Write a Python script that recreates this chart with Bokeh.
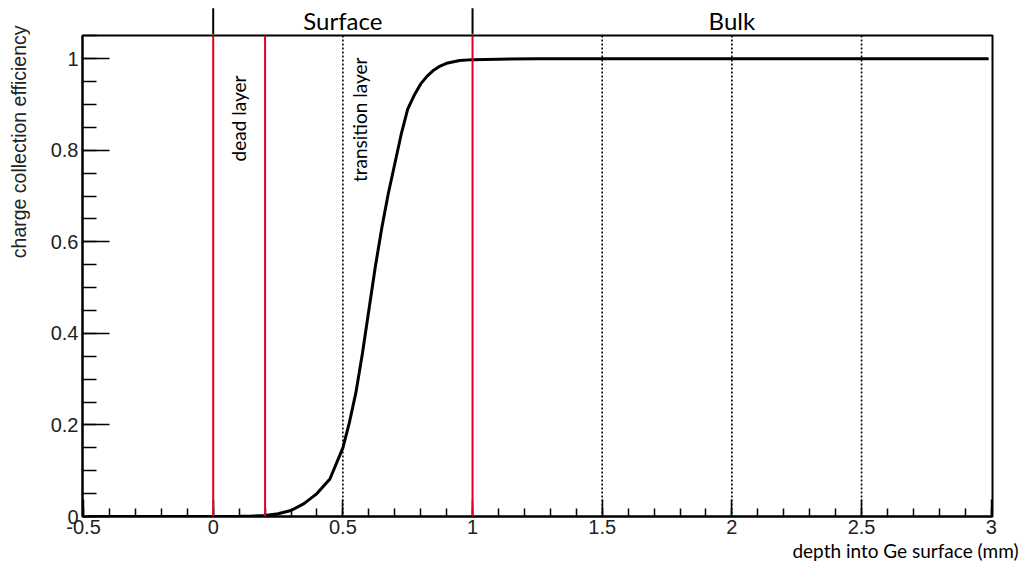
import math
from bokeh.plotting import figure
from bokeh.layouts import column, row
from bokeh.models import (Range1d, Span, Label, Title, SingleIntervalTicker,
                          NumeralTickFormatter)
from bokeh.embed import file_html
from bokeh.resources import INLINE

# ---- data ----
depth = [-0.48, -0.4, -0.3, -0.2, -0.1, 0.0, 0.1, 0.15, 0.2, 0.25, 0.3, 0.35, 0.4, 0.45,
         0.5, 0.525, 0.55, 0.575, 0.6, 0.625, 0.65, 0.675, 0.7, 0.725, 0.75, 0.775, 0.8,
         0.825, 0.85, 0.875, 0.9, 0.95, 1.0, 1.1, 1.25, 1.5, 2.0, 2.5, 2.99]
efficiency = [0.0, 0.0, 0.0, 0.0, 0.0, 0.0, 0.0005, 0.001, 0.002, 0.006, 0.013, 0.028, 0.05, 0.082,
              0.15, 0.205, 0.27, 0.355, 0.45, 0.545, 0.63, 0.705, 0.77, 0.835, 0.89, 0.92, 0.945,
              0.962, 0.975, 0.984, 0.99, 0.996, 0.998, 0.999, 1.0, 1.0, 1.0, 1.0, 1.0]
red_boundaries = [0.0, 0.2, 1.0]
dotted_boundaries = [0.5, 1.5, 2.0, 2.5]
region_boundaries = [0.0, 1.0]
region_names = ["Surface", "Bulk"]
region_centers = [0.5, 2.0]
layer_names = ["dead layer", "transition layer"]
layer_x = [0.098, 0.565]
layer_top = [0.963, 1.0026]
y_title = "charge collection efficiency"
x_title = "depth into Ge surface (mm)"

X0, X1 = -0.504, 3.005
Y0, Y1 = 0.0, 1.0507
SIDE_W = 30
BORDER_L, BORDER_R = 52, 33
W = 1025 - SIDE_W
H = 563

tick_font = "Liberation Sans"

# ---- narrow strip on the left holding the y-axis title ----
side = figure(width=SIDE_W, height=H, output_backend="svg", toolbar_location=None,
              x_range=Range1d(0, SIDE_W), y_range=Range1d(H, 0),
              x_axis_type=None, y_axis_type=None,
              min_border_left=0, min_border_right=0, min_border_top=0, min_border_bottom=0)
side.outline_line_color = None
side.grid.visible = False
side.add_layout(Label(x=18, y=25, text=y_title, angle=math.pi / 2, text_align="right",
                      text_baseline="middle", text_font=tick_font, text_font_size="19.5px",
                      text_color="#222222"))

xr = Range1d(X0, X1)

# ---- header strip (region names above the frame) ----
header = figure(width=W, height=34, output_backend="svg", toolbar_location=None,
                x_range=xr, y_range=Range1d(0, 1), x_axis_type=None, y_axis_type=None,
                min_border_left=BORDER_L, min_border_right=BORDER_R,
                min_border_top=0, min_border_bottom=0)
header.outline_line_color = None
header.grid.visible = False
header.segment(x0=region_boundaries, y0=[0] * len(region_boundaries),
               x1=region_boundaries, y1=[0.77] * len(region_boundaries),
               line_color="black", line_width=2)
for name, xc in zip(region_names, region_centers):
    header.add_layout(Label(x=xc, y=0.41, text=name, text_align="center", text_baseline="middle",
                            text_font="Lato", text_font_size="24px", text_color="black"))

# ---- main plot ----
p = figure(width=W, height=H - 36, output_backend="svg", toolbar_location=None,
           x_range=xr, y_range=Range1d(Y0, Y1),
           min_border_left=BORDER_L, min_border_right=BORDER_R,
           min_border_top=1, min_border_bottom=45)
p.background_fill_color = "white"
p.border_fill_color = "white"
p.grid.visible = False
p.outline_line_color = "black"
p.outline_line_width = 2

for ax in (p.xaxis[0], p.yaxis[0]):
    ax.axis_line_width = 2
    ax.axis_line_color = "black"
    ax.major_tick_line_width = 1.5
    ax.minor_tick_line_width = 1.5
    ax.major_tick_line_color = "black"
    ax.minor_tick_line_color = "black"
    ax.major_tick_out = 0
    ax.minor_tick_out = 0
    ax.major_label_text_font = tick_font
    ax.major_label_text_font_size = "20px"
    ax.major_label_text_color = "#222222"
    ax.formatter = NumeralTickFormatter(format="0.[0]")

p.xaxis[0].ticker = SingleIntervalTicker(interval=0.5, num_minor_ticks=5)
p.xaxis[0].major_tick_in = 17
p.xaxis[0].minor_tick_in = 8
p.xaxis[0].major_label_standoff = 3

p.yaxis[0].ticker = SingleIntervalTicker(interval=0.2, num_minor_ticks=4)
p.yaxis[0].major_tick_in = 27
p.yaxis[0].minor_tick_in = 14
p.yaxis[0].major_label_standoff = 4

for xb in red_boundaries:
    p.add_layout(Span(location=xb, dimension="height", line_color="#e3001b", line_width=2))
for xb in dotted_boundaries:
    p.add_layout(Span(location=xb, dimension="height", line_color="black", line_width=1.6,
                      line_dash="2 2"))

p.line(depth, efficiency, line_color="black", line_width=3)

for name, xc, yt in zip(layer_names, layer_x, layer_top):
    p.add_layout(Label(x=xc, y=yt, text=name, angle=math.pi / 2, text_align="right",
                       text_baseline="middle", text_font="Lato", text_font_size="19px",
                       text_color="black"))

p.add_layout(Title(text=x_title, align="right", offset=-26,
                   standoff=0, text_font="Lato", text_font_size="19px",
                   text_font_style="normal", text_color="black"), "below")

layout = row(side, column(header, p, spacing=0), spacing=0)
open("out.html", "w").write(file_html(layout, INLINE))
